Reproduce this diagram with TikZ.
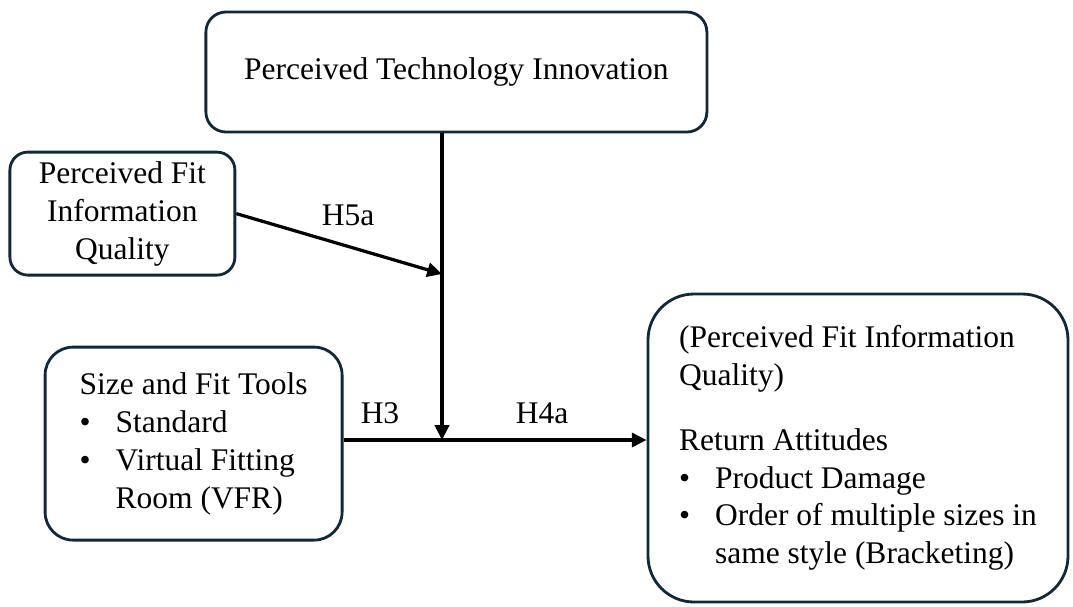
\documentclass[tikz,border=0pt]{standalone}
\usepackage{fontspec}
\setmainfont{Liberation Serif}
\usetikzlibrary{arrows.meta}
\definecolor{boxline}{RGB}{16,40,56}
\newcommand{\bul}{\makebox[0.9cm][l]{\textbullet}}

\begin{document}
\begin{tikzpicture}
\tikzstyle{construct} = [draw=boxline, line width=2pt, align=center, font=\fontsize{22.4}{27}\selectfont]
\tikzstyle{path1} = [line width=2.3pt, -{Triangle[length=10.5pt, width=10pt]}]
\tikzstyle{hyp} = [font=\fontsize{22.4}{27}\selectfont]
\useasboundingbox (0,0) rectangle (26.825,-15.15);
\node[construct, rounded corners=0.5cm, minimum width=12.525cm, minimum height=3cm] (tech) at (11.41,-1.8) {Perceived Technology Innovation};
\node[construct, rounded corners=0.45cm, minimum width=5.625cm, minimum height=3.075cm] (fitq) at (3.06,-5.34) {Perceived Fit\\ Information\\ Quality};
\node[construct, rounded corners=0.7cm, align=left, minimum width=7.425cm, minimum height=4.825cm] (tools) at (4.84,-11.09) {Size and Fit Tools\\ \bul Standard\\ \bul Virtual Fitting\\ \hspace*{0.9cm}Room (VFR)};
\node[construct, rounded corners=1.15cm, align=left, minimum width=10.5cm, minimum height=7.7cm] (ret) at (21.45,-11.2) {(Perceived Fit Information\\ Quality)\\[19pt] Return Attitudes\\ \bul Product Damage\\ \bul Order of multiple sizes in\\ \hspace*{0.9cm}same style (Bracketing)};
\coordinate (mid) at (11.05,-11.0);
\coordinate (hit) at (11.05,-6.85);
\draw[path1] (tech.south -| mid) -- (mid);
\draw[path1] (fitq.east) -- (hit);
\draw[path1] (tools.east |- mid) -- (ret.west |- mid);
\node[hyp] (h5a) at (8.7,-5.375) {H5a};
\node[hyp] (h3) at (9.5,-10.325) {H3};
\node[hyp] (h4a) at (13.55,-10.325) {H4a};
\end{tikzpicture}
\end{document}
